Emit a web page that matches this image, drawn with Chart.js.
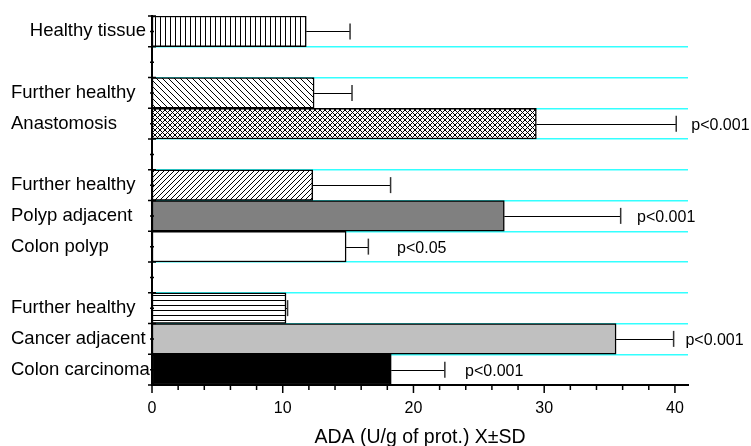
<!DOCTYPE html>
<html><head><meta charset="utf-8">
<script src="https://cdn.jsdelivr.net/npm/chart.js@4"></script>
<style>html,body{margin:0;padding:0;background:#fff;}</style>
</head><body>
<canvas id="c" width="751" height="446"></canvas>
<script>
// ---- data ----
const categories = ['Healthy tissue', '', 'Further healthy', 'Anastomosis', '', 'Further healthy', 'Polyp adjacent', 'Colon polyp', '', 'Further healthy', 'Cancer adjacent', 'Colon carcinoma'];
const means = [11.8, null, 12.4, 29.4, null, 12.3, 26.95, 14.85, null, 10.25, 35.5, 18.3];
const sds   = [3.35, null, 2.9, 10.7, null, 5.95, 8.9, 1.7, null, 0.12, 4.4, 4.1];
const pLabels = ['', '', '', 'p<0.001', '', '', 'p<0.001', 'p<0.05', '', '', 'p<0.001', 'p<0.001'];
const pLabelAt = [null, null, null, 41.25, null, null, 37.1, 18.75, null, null, 40.8, 23.95];
const xTickLabels = [0, 10, 20, 30, 40];
const xMinorStep = 2;
const fillKinds = ['vert', null, 'back', 'cross', null, 'fwd', 'gray', 'white', null, 'horiz', 'lightgray', 'black'];
const xTitle = 'ADA (U/g of prot.) X\u00b1SD';

const FONT = '"Liberation Sans", Arial, Helvetica, sans-serif';
const canvas = document.getElementById('c');
const mainCtx = canvas.getContext('2d');

function pattern(kind) {
  const s = (kind === 'back') ? 6 : 5;
  const c = document.createElement('canvas');
  c.width = s; c.height = s;
  const g = c.getContext('2d');
  g.fillStyle = '#fff'; g.fillRect(0, 0, s, s);
  g.strokeStyle = '#000'; g.lineWidth = 1;
  g.beginPath();
  if (kind === 'vert') { g.moveTo(0.5, 0); g.lineTo(0.5, s); }
  if (kind === 'horiz') { g.moveTo(0, 0.5); g.lineTo(s, 0.5); }
  if (kind === 'back' || kind === 'cross') {
    for (const k of [-1, 0, 1]) { g.moveTo(k * s, 0); g.lineTo(k * s + s, s); }
  }
  if (kind === 'fwd' || kind === 'cross') {
    for (const k of [-1, 0, 1]) { g.moveTo(k * s + s, 0); g.lineTo(k * s, s); }
  }
  g.stroke();
  return mainCtx.createPattern(c, 'repeat');
}
function fillFor(kind) {
  if (kind === 'gray') return '#808080';
  if (kind === 'lightgray') return '#c0c0c0';
  if (kind === 'black') return '#000000';
  if (kind === 'white' || kind === null) return '#ffffff';
  return pattern(kind);
}
const fills = fillKinds.map(fillFor);

const extras = {
  id: 'extras',
  afterDatasetsDraw(chart) {
    const { ctx, scales: { x, y } } = chart;
    ctx.save();
    for (let i = 0; i < means.length; i++) {
      if (means[i] == null) continue;
      const yc = y.getPixelForValue(i);
      const x0 = x.getPixelForValue(means[i]);
      const x1 = x.getPixelForValue(means[i] + sds[i]);
      ctx.strokeStyle = '#000'; ctx.lineWidth = 1;
      ctx.beginPath(); ctx.moveTo(x0, Math.round(yc) + 0.5); ctx.lineTo(x1, Math.round(yc) + 0.5); ctx.stroke();
      ctx.strokeStyle = '#333'; ctx.lineWidth = 1.5;
      ctx.beginPath(); ctx.moveTo(x1, yc - 8); ctx.lineTo(x1, yc + 8); ctx.stroke();
      if (pLabels[i]) {
        ctx.fillStyle = '#000';
        ctx.font = '16px ' + FONT;
        ctx.textAlign = 'left'; ctx.textBaseline = 'middle';
        ctx.fillText(pLabels[i], x.getPixelForValue(pLabelAt[i]), yc + 2);
      }
    }
    ctx.restore();
  },
  afterDraw(chart) {
    const { ctx, scales: { x, y }, chartArea: a } = chart;
    ctx.save();
    ctx.strokeStyle = '#000'; ctx.lineWidth = 1.5;
    ctx.beginPath();
    const xmax = xTickLabels[xTickLabels.length - 1];
    for (let v = 0; v <= xmax; v += xMinorStep) {
      const px = x.getPixelForValue(v);
      const len = xTickLabels.includes(v) ? 8 : 5;
      ctx.moveTo(px, a.bottom); ctx.lineTo(px, a.bottom + len);
    }
    for (let i = 0; i <= categories.length; i++) {
      const py = y.getPixelForValue(i - 0.5);
      ctx.moveTo(a.left - 4, py); ctx.lineTo(a.left + 4, py);
    }
    for (let i = 0; i < categories.length; i++) {
      const py = y.getPixelForValue(i);
      ctx.moveTo(a.left - 2, py); ctx.lineTo(a.left + 2, py);
    }
    ctx.stroke();
    // first category label is right-aligned against the axis in the original
    ctx.fillStyle = '#000';
    ctx.font = '18.5px ' + FONT;
    ctx.textAlign = 'right'; ctx.textBaseline = 'middle';
    ctx.fillText(categories[0], a.left - 6, y.getPixelForValue(0));
    ctx.restore();
  }
};

new Chart(canvas, {
  type: 'bar',
  data: {
    labels: categories,
    datasets: [{
      data: means,
      backgroundColor: fills,
      borderColor: '#000',
      borderWidth: 1.5,
      borderSkipped: false,
      barPercentage: 1,
      categoryPercentage: 1
    }]
  },
  options: {
    indexAxis: 'y',
    responsive: false,
    animation: false,
    devicePixelRatio: 1,
    layout: { padding: { left: 11, right: 63, top: 16, bottom: 0 } },
    plugins: { legend: { display: false }, tooltip: { enabled: false } },
    scales: {
      x: {
        type: 'linear', min: 0, max: 41,
        afterFit(s) { s.height = 61; },
        grid: { display: false, drawTicks: false },
        border: { display: true, color: '#000', width: 2 },
        ticks: {
          stepSize: 10, includeBounds: false, padding: 14, color: '#000',
          autoSkip: false, maxRotation: 0,
          font: { family: FONT, size: 16 },
          callback: (v) => xTickLabels.includes(v) ? String(v) : ''
        },
        title: {
          display: true, text: xTitle, color: '#000',
          font: { family: FONT, size: 19.5, lineHeight: 1 },
          padding: { top: 0, bottom: -1.5 }
        }
      },
      y: {
        type: 'category', offset: true,
        afterFit(s) { s.width = 141; },
        grid: {
          offset: true, drawTicks: false, lineWidth: 1.5,
          color: (c) => (typeof c.index === 'number' && c.index > 0) ? '#33ffff' : 'rgba(0,0,0,0)'
        },
        border: { display: true, color: '#000', width: 2 },
        ticks: {
          crossAlign: 'far', autoSkip: false, padding: 0,
          color: (c) => c.index === 0 ? 'rgba(0,0,0,0)' : '#000',
          font: { family: FONT, size: 18.5 }
        }
      }
    }
  },
  plugins: [extras]
});
</script>
</body></html>
